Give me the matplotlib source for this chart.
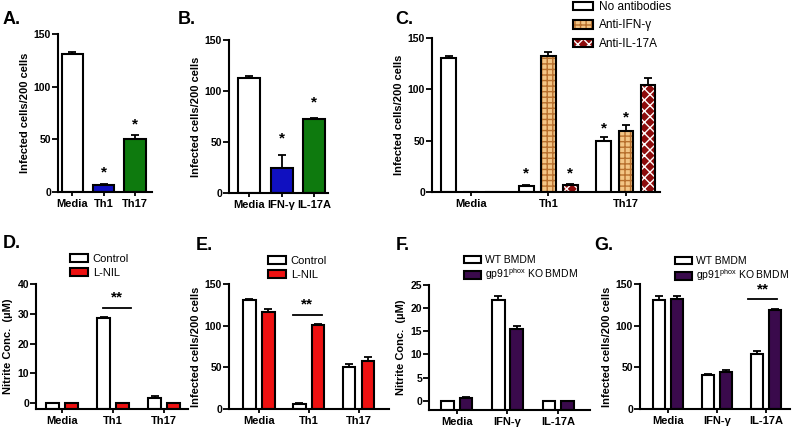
import numpy as np
import matplotlib.pyplot as plt

plt.rcParams['font.family'] = ['Liberation Sans', 'DejaVu Sans']

W, H = 793, 429

# ---- data ----
a_cats = ['Media', 'Th1', 'Th17']
a_vals = [131, 7, 50]
a_err = [2, 1, 4]
a_cols = ['white', '#1010c0', '#0e7a0e']

b_cats = ['Media', 'IFN-γ', 'IL-17A']
b_vals = [113, 25, 73]
b_err = [2, 12, 0.5]
b_cols = ['white', '#1010c0', '#0e7a0e']

c_cats = ['Media', 'Th1', 'Th17']
c_none = [131, 6, 50]
c_none_err = [1.5, 0.8, 4]
c_ifn = [0, 132, 59]
c_ifn_err = [0, 4, 6]
c_il17 = [0, 7, 104]
c_il17_err = [0, 0.8, 7]
c_names = ['No antibodies', 'Anti-IFN-γ', 'Anti-IL-17A']

d_cats = ['Media', 'Th1', 'Th17']
d_ctrl = [0, 28.5, 1.6]
d_ctrl_err = [0, 0.3, 0.7]
d_lnil = [0, 0, 0]
d_lnil_err = [0, 0, 0]

e_cats = ['Media', 'Th1', 'Th17']
e_ctrl = [131, 6, 50]
e_ctrl_err = [1.5, 1, 4]
e_lnil = [117, 100.5, 58]
e_lnil_err = [3, 1, 4.5]

f_cats = ['Media', 'IFN-γ', 'IL-17A']
f_wt = [0, 21.7, 0]
f_wt_err = [0, 0.9, 0]
f_ko = [0.5, 15.6, 0]
f_ko_err = [0.3, 0.5, 0]

g_cats = ['Media', 'IFN-γ', 'IL-17A']
g_wt = [131, 41, 66]
g_wt_err = [5, 0.8, 4]
g_ko = [132, 45, 119]
g_ko_err = [3.5, 1.5, 1.5]

fig = plt.figure(figsize=(W / 100, H / 100), dpi=100)


def add_ax(x0, x1, y0, y1):
    return fig.add_axes([x0 / W, 1 - y1 / H, (x1 - x0) / W, (y1 - y0) / H])


def style(ax, ylim, xlim, yticks, cats, ylabel):
    for s in ['top', 'right']:
        ax.spines[s].set_visible(False)
    for s in ['left', 'bottom']:
        ax.spines[s].set_linewidth(1.5)
    ax.set_ylim(*ylim)
    ax.set_xlim(*xlim)
    ax.set_yticks(yticks)
    ax.set_xticks(range(len(cats)))
    ax.set_xticklabels(cats, fontweight='bold', fontsize=8)
    ax.tick_params(axis='y', length=4, width=1.3, labelsize=7.5, pad=1)
    ax.tick_params(axis='x', length=3, width=1.3, pad=2)
    for t in ax.get_yticklabels():
        t.set_fontweight('bold')
    ax.set_ylabel(ylabel, fontweight='bold', fontsize=8, labelpad=3)


def bars(ax, x, vals, err, width, color, bottom=0, **kw):
    vals = np.array(vals, dtype=float)
    b = ax.bar(x, vals - bottom, width, bottom=bottom, color=color,
               edgecolor='black', linewidth=1.5, **kw)
    ax.errorbar(x, vals, yerr=[np.zeros(len(vals)), err], fmt='none',
                ecolor='black', elinewidth=1.3, capsize=3, capthick=1.3)
    return b


def stars(ax, x, y, s='*'):
    ax.text(x, y, s, ha='center', va='center', fontsize=11, fontweight='bold')


def small_legend(ax, px, py, fs=8, spacing=0.35):
    ax.legend(loc='upper left', bbox_to_anchor=(px / W, 1 - py / H),
              bbox_transform=fig.transFigure, frameon=False, fontsize=fs,
              handlelength=1.6, handleheight=0.75, handletextpad=0.45,
              labelspacing=spacing, borderaxespad=0, borderpad=0)


INF = 'Infected cells/200 cells'
NIT = 'Nitrite Conc.  (µM)'

# ---- A ----
ax = add_ax(58, 152, 34, 192)
x = np.arange(3)
bars(ax, x, a_vals, a_err, 0.68, a_cols)
style(ax, (0, 150), (-0.46, 2.54), [0, 50, 100, 150], a_cats, INF)
stars(ax, 1, 19)
stars(ax, 2, 64)

# ---- B ----
ax = add_ax(229, 328, 40, 193)
bars(ax, x, b_vals, b_err, 0.68, b_cols)
style(ax, (0, 150), (-0.62, 2.43), [0, 50, 100, 150], b_cats, INF)
stars(ax, 1, 53)
stars(ax, 2, 89)

# ---- C ----
ax = add_ax(432, 660, 38, 192)
off, w = 0.284, 0.19
h1 = bars(ax, x - off, c_none, c_none_err, w, 'white')
h2a = ax.bar(x, c_ifn, w, color='#f3c585', edgecolor='#b8702e', hatch='+++', linewidth=0)
h2 = bars(ax, x, c_ifn, c_ifn_err, w, 'none')
h3a = ax.bar(x + off, c_il17, w, color='#8e0c0c', edgecolor='white', hatch='xxx', linewidth=0)
h3 = bars(ax, x + off, c_il17, c_il17_err, w, 'none')
style(ax, (0, 150), (-0.5, 2.44), [0, 50, 100, 150], c_cats, INF)
for xx, yy in [(1 - off, 18), (1 + off, 18), (2 - off, 62), (2, 73)]:
    stars(ax, xx, yy)
fig.legend([h1, (h2a, h2), (h3a, h3)], c_names, loc='upper left',
           bbox_to_anchor=(573 / W, 1 - 1 / H), frameon=False, fontsize=8.5,
           handlelength=1.7, handleheight=0.75, handletextpad=0.5,
           labelspacing=0.55, borderaxespad=0, borderpad=0)

# ---- D ----
off, w = 0.186, 0.245
ax = add_ax(36, 188, 284, 409)
bars(ax, x - off, d_ctrl, d_ctrl_err, w, 'white', bottom=-2, label='Control')
bars(ax, x + off, d_lnil, d_lnil_err, w, '#ee1111', bottom=-2, label='L-NIL')
style(ax, (-2, 40), (-0.51, 2.47), [0, 10, 20, 30, 40], d_cats, NIT)
ax.plot([1 - 0.2, 1 + 0.35], [32, 32], color='black', lw=1.3)
stars(ax, 1.07, 35.5, '**')
small_legend(ax, 70, 254)

# ---- E ----
off, w = 0.19, 0.25
ax = add_ax(229, 389, 284, 409)
bars(ax, x - off, e_ctrl, e_ctrl_err, w, 'white', label='Control')
bars(ax, x + off, e_lnil, e_lnil_err, w, '#ee1111', label='L-NIL')
style(ax, (0, 150), (-0.60, 2.61), [0, 50, 100, 150], e_cats, INF)
ax.plot([1 - 0.32, 1 + 0.27], [113, 113], color='black', lw=1.3)
stars(ax, 0.97, 125, '**')
small_legend(ax, 268, 256)

# ---- F ----
off, w = 0.18, 0.25
ko_col = '#3a0a4c'
ax = add_ax(429, 590, 285, 410)
bars(ax, x - off, f_wt, f_wt_err, w, 'white', bottom=-2, label='WT BMDM')
bars(ax, x + off, f_ko, f_ko_err, w, ko_col, bottom=-2,
     label=r'gp91$^{\mathregular{phox}}$ KO BMDM')
style(ax, (-2, 25), (-0.55, 2.63), [0, 5, 10, 15, 20, 25], f_cats, NIT)
small_legend(ax, 464, 255, fs=7.5, spacing=0.15)

# ---- G ----
off, w = 0.18, 0.24
ax = add_ax(640, 790, 284, 409)
bars(ax, x - off, g_wt, g_wt_err, w, 'white', label='WT BMDM')
bars(ax, x + off, g_ko, g_ko_err, w, ko_col,
     label=r'gp91$^{\mathregular{phox}}$ KO BMDM')
style(ax, (0, 150), (-0.57, 2.49), [0, 50, 100, 150], g_cats, INF)
ax.plot([2 - 0.37, 2 + 0.22], [132, 132], color='black', lw=1.3)
stars(ax, 2 - 0.06, 143, '**')
small_legend(ax, 675, 256, fs=7.5, spacing=0.15)

# ---- panel letters ----
for lab, px, py in [('A.', 3, 20), ('B.', 178, 20), ('C.', 395, 20),
                    ('D.', 3, 243), ('E.', 196, 245), ('F.', 396, 245), ('G.', 594, 245)]:
    fig.text(px / W, 1 - py / H, lab, fontsize=13, fontweight='bold', va='center')

fig.savefig('out.png', dpi=100)
